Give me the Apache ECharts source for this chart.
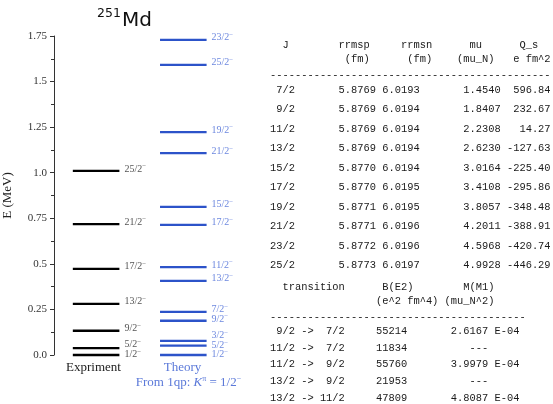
<!DOCTYPE html>
<html>
<head>
<meta charset="utf-8">
<script src="https://cdn.jsdelivr.net/npm/echarts@6/dist/echarts.min.js"></script>
<style>html,body{margin:0;padding:0;background:#fff;}#c{width:553px;height:404px;}</style>
</head>
<body>
<div id="c"></div>
<script>
// ---- level scheme data (MeV) ----
const exptJ = ['1/2','5/2','9/2','13/2','17/2','21/2','25/2'];
const exptE = [0.000, 0.038, 0.133, 0.281, 0.473, 0.718, 1.010];
const theoJ = ['1/2','5/2','3/2','9/2','7/2','13/2','11/2','17/2','15/2','21/2','19/2','25/2','23/2'];
const theoE = [0.000, 0.051, 0.077, 0.188, 0.237, 0.407, 0.482, 0.714, 0.813, 1.107, 1.223, 1.592, 1.729];
const columnNames = ['Expriment', 'Theory'];
const yTickLabels = ['0.0','0.25','0.5','0.75','1.0','1.25','1.5','1.75'];

// ---- table data ----
const tabJ  = ['7/2','9/2','11/2','13/2','15/2','17/2','19/2','21/2','23/2','25/2'];
const rrmsp = ['5.8769','5.8769','5.8769','5.8769','5.8770','5.8770','5.8771','5.8771','5.8772','5.8773'];
const rrmsn = ['6.0193','6.0194','6.0194','6.0194','6.0194','6.0195','6.0195','6.0196','6.0196','6.0197'];
const muN   = ['1.4540','1.8407','2.2308','2.6230','3.0164','3.4108','3.8057','4.2011','4.5968','4.9928'];
const Qs    = ['596.84','232.67','14.27','-127.63','-225.40','-295.86','-348.48','-388.91','-420.74','-446.29'];
const transFrom = ['9/2','11/2','11/2','13/2','13/2'];
const transTo   = ['7/2','7/2','9/2','9/2','11/2'];
const BE2 = ['55214','11834','55760','21953','47809'];
const MM1 = ['2.6167 E-04','---','3.9979 E-04','---','4.8087 E-04'];

const chart = echarts.init(document.getElementById('c'), null, {renderer:'canvas'});

const PX_PER_UNIT = 88, GRID_LEFT = 52, COL0_PX = 94.5;
const xMin = -(COL0_PX - GRID_LEFT) / PX_PER_UNIT;
const xMax = 2.0;
const HW = 23.5 / PX_PER_UNIT;
const LABEL_DY = -2.5, LABEL_GAP = 9.5;

function spread(ys, gap){
  const order = ys.map((y,i)=>i).sort((a,b)=>ys[b]-ys[a]);
  const out = ys.slice();
  for (let it=0; it<60; it++){
    for (let k=1;k<order.length;k++){
      const lo = order[k-1], hi = order[k];
      const d = out[lo] - out[hi];
      if (d < gap){ const m=(gap-d)/2; out[lo]+=m; out[hi]-=m; }
    }
  }
  return out;
}

const serif = 'Liberation Serif';
function levelSeries(col, Js, Es, lineColor, textColor){
  return {
    type:'custom', coordinateSystem:'cartesian2d', clip:false, silent:true,
    data: Es.map((e,i)=>[col, e]),
    renderItem: function(params, api){
      const idx = params.dataIndex;
      const ys = Es.map(e => api.coord([col, e])[1] + LABEL_DY);
      const adj = spread(ys, LABEL_GAP);
      const p0 = api.coord([api.value(0) - HW, api.value(1)]);
      const p1 = api.coord([api.value(0) + HW, api.value(1)]);
      return {type:'group', children:[
        {type:'line', shape:{x1:p0[0],y1:p0[1],x2:p1[0],y2:p1[1]}, style:{stroke:lineColor, lineWidth:2.3}},
        {type:'text', x:p1[0]+5, y:adj[idx], style:{
          text:'{a|'+Js[idx]+'}{s|−}', fill:textColor, align:'left', verticalAlign:'middle',
          rich:{a:{fontFamily:serif,fontSize:10,fill:textColor,lineHeight:11,verticalAlign:'bottom'},
                s:{fontFamily:serif,fontSize:7,fill:textColor,lineHeight:11,verticalAlign:'top'}}
        }}
      ]};
    }
  };
}

// table lines
const mono = 'Liberation Mono';
const MONO_SIZE = 10.4;
const tableLines = [];
tableLines.push({t:'  J        rrmsp     rrmsn      mu      Q_s', y:45});
tableLines.push({t:'            (fm)      (fm)    (mu_N)   e fm^2', y:59.5});
tableLines.push({t:'-'.repeat(45), y:75.5});
tabJ.forEach((j,i)=>{
  tableLines.push({t: j.padStart(4) + ' '.repeat(7) + rrmsp[i] + ' ' + rrmsn[i] + ' '.repeat(7) + muN[i] + Qs[i].padStart(8), y: 90 + i*19.5});
});
tableLines.push({t:'  transition      B(E2)        M(M1)', y:287});
tableLines.push({t:'                 (e^2 fm^4) (mu_N^2)', y:301});
tableLines.push({t:'-'.repeat(41), y:317});
transFrom.forEach((f,i)=>{
  const m = MM1[i] === '---' ? '   ---' : MM1[i];
  tableLines.push({t: f.padStart(4) + ' -> ' + transTo[i].padStart(4) + ' '.repeat(5) + BE2[i] + ' '.repeat(7) + m, y: 331 + i*16.75});
});

const graphics = tableLines.map(l => ({
  type:'text', x:270, y:l.y, silent:true,
  style:{text:l.t, fontFamily:mono, fontSize:MONO_SIZE, fill:'#1a1a1a', align:'left', verticalAlign:'middle'}
}));

graphics.push({type:'text', x:97, y:14, style:{text:'251', fontFamily:'DejaVu Sans', fontSize:12.5, fill:'#111', align:'left', verticalAlign:'middle'}});
graphics.push({type:'text', x:122, y:21, style:{text:'Md', fontFamily:'DejaVu Sans', fontSize:20, fill:'#111', align:'left', verticalAlign:'middle'}});
graphics.push({type:'text', x:93.5, y:368, style:{text:columnNames[0], fontFamily:serif, fontSize:13, fill:'#222', align:'center', verticalAlign:'middle'}});
graphics.push({type:'text', x:182.5, y:368, style:{text:columnNames[1], fontFamily:serif, fontSize:13, fill:'#5b79d9', align:'center', verticalAlign:'middle'}});
graphics.push({type:'text', x:188.5, y:382, style:{
  text:'{n|From 1qp: }{i|K}{p|π}{n| = 1/2}{p|−}', align:'center', verticalAlign:'middle', fill:'#5b79d9',
  rich:{n:{fontFamily:serif,fontSize:13,fill:'#5b79d9',lineHeight:14,verticalAlign:'bottom'},
        i:{fontFamily:serif,fontSize:13,fontStyle:'italic',fill:'#5b79d9',lineHeight:14,verticalAlign:'bottom'},
        p:{fontFamily:serif,fontSize:8,fill:'#5b79d9',lineHeight:14,verticalAlign:'top'}}
}});

chart.setOption({
  animation:false,
  backgroundColor:'#fff',
  grid:{left:GRID_LEFT, top:36, bottom:49, width:(xMax-xMin)*PX_PER_UNIT, containLabel:false},
  xAxis:{type:'value', min:xMin, max:xMax, show:false},
  yAxis:{type:'value', min:0, max:1.75, interval:0.25, position:'left',
    name:'E (MeV)', nameLocation:'middle', nameGap:40, nameRotate:90,
    nameTextStyle:{fontFamily:serif, fontSize:13, color:'#222'},
    axisLine:{show:true, onZero:false, lineStyle:{color:'#333', width:1}},
    axisTick:{show:true, inside:false, length:4, lineStyle:{color:'#333'}},
    minorTick:{show:true, splitNumber:2, length:3, lineStyle:{color:'#333'}},
    splitLine:{show:false},
    axisLabel:{margin:7, fontFamily:serif, fontSize:11, color:'#333',
      formatter:function(v){ return yTickLabels[Math.round(v/0.25)]; }}
  },
  series:[
    levelSeries(0, exptJ, exptE, '#000000', '#555555'),
    levelSeries(1, theoJ, theoE, '#2c53c9', '#6d88df')
  ],
  graphic: graphics
});
</script>
</body>
</html>
